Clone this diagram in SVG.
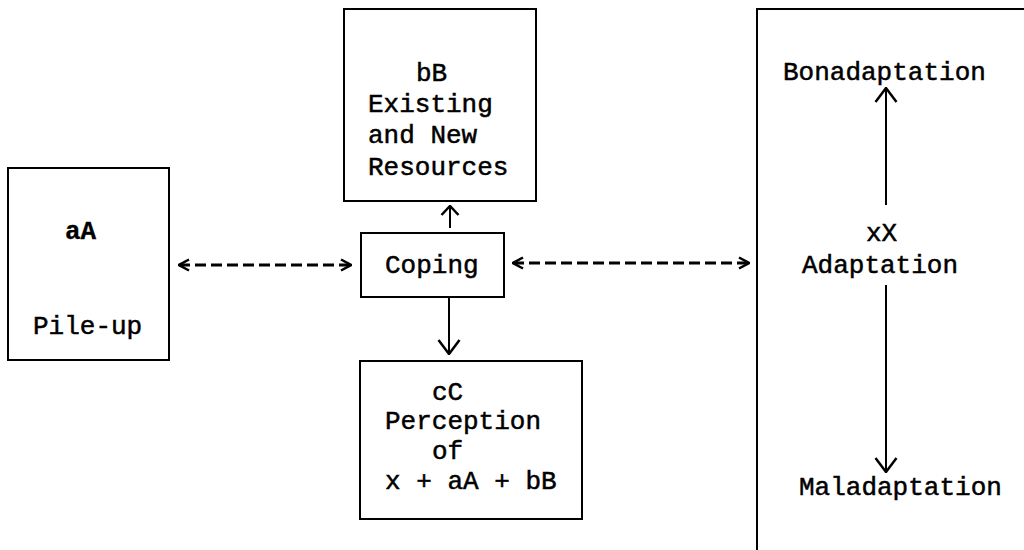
<svg xmlns="http://www.w3.org/2000/svg" width="1024" height="550" viewBox="0 0 1024 550">
<style>
.box{fill:#fff;stroke:#000;stroke-width:2}
.t{font-family:"Liberation Mono","Courier New",monospace;font-size:26px;fill:#000;stroke:#000;stroke-width:0.5}
.b{font-weight:bold;stroke-width:0.3}
.c{stroke:#000;stroke-width:2;fill:none}
.d{stroke:#000;stroke-width:3;fill:none;stroke-dasharray:11 5}
</style>
<defs>
<marker id="ah" viewBox="0 0 12 14" refX="11" refY="7" markerWidth="12" markerHeight="14" markerUnits="userSpaceOnUse" orient="auto-start-reverse">
<path d="M1,1.5 L11,7 L1,12.5" fill="none" stroke="#000" stroke-width="2.5"/>
</marker>
<marker id="ah2" viewBox="0 0 16 24" refX="15" refY="12" markerWidth="16" markerHeight="24" markerUnits="userSpaceOnUse" orient="auto-start-reverse">
<path d="M1,1.5 L15,12 L1,22.5" fill="none" stroke="#000" stroke-width="2.5"/>
</marker>
<marker id="ah3" viewBox="0 0 11 20" refX="10" refY="10" markerWidth="11" markerHeight="20" markerUnits="userSpaceOnUse" orient="auto-start-reverse">
<path d="M1,1.5 L10,10 L1,18.5" fill="none" stroke="#000" stroke-width="2.5"/>
</marker>
</defs>
<rect width="1024" height="550" fill="#fff"/>
<g id="nodeA">
<rect class="box" x="8" y="168" width="161" height="192"/>
<text class="t b" x="65" y="239">aA</text>
<text class="t" x="33" y="334">Pile-up</text>
</g>
<g id="nodeB">
<rect class="box" x="344" y="9" width="192" height="192"/>
<text class="t" x="416" y="81">bB</text>
<text class="t" x="368" y="112">Existing</text>
<text class="t" x="368" y="143">and New</text>
<text class="t" x="368" y="175">Resources</text>
</g>
<g id="coping">
<rect class="box" x="361" y="233" width="143" height="64"/>
<text class="t" x="385" y="273">Coping</text>
</g>
<g id="nodeC">
<rect class="box" x="360" y="361" width="222" height="158"/>
<text class="t" x="432" y="400">cC</text>
<text class="t" x="385" y="429">Perception</text>
<text class="t" x="432" y="459">of</text>
<text class="t" x="385" y="489">x + aA + bB</text>
</g>
<g id="nodeX">
<rect class="box" x="757" y="9" width="300" height="560"/>
<text class="t" x="783" y="80">Bonadaptation</text>
<text class="t" x="866" y="241">xX</text>
<text class="t" x="802" y="273">Adaptation</text>
<text class="t" x="799" y="495">Maladaptation</text>
</g>
<g id="connectors">
<line class="d" x1="179" y1="265" x2="351" y2="265" marker-start="url(#ah)" marker-end="url(#ah)"/>
<line class="d" x1="513" y1="263" x2="749" y2="263" marker-start="url(#ah)" marker-end="url(#ah)"/>
<line class="c" x1="450" y1="228" x2="450" y2="206" stroke-width="2.5" marker-end="url(#ah3)"/>
<line class="c" x1="449" y1="298" x2="449" y2="354" stroke-width="2.5" marker-end="url(#ah2)"/>
<line class="c" x1="886" y1="205" x2="886" y2="88" marker-end="url(#ah2)"/>
<line class="c" x1="886" y1="285" x2="886" y2="472" marker-end="url(#ah2)"/>
</g>
</svg>
